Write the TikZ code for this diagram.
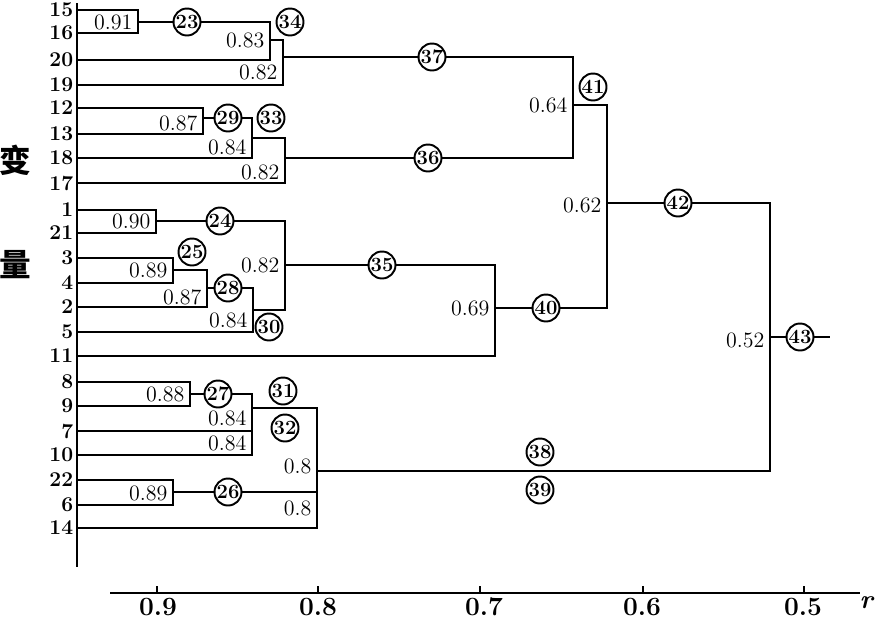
\documentclass[tikz,border=0pt]{standalone}
\usepackage{fontspec}
\newfontfamily\cjkfont{Noto Sans CJK SC}
\begin{document}
\begin{tikzpicture}[x=0.02cm,y=-0.02cm,line width=1.2pt,
        leaf/.style={anchor=east,inner sep=1.6pt,font=\fontsize{12}{12}\selectfont\bfseries},
        val/.style={anchor=east,inner sep=1.5pt,font=\fontsize{12.5}{13}\selectfont},
        num/.style={circle,draw,line width=1.1pt,minimum size=0.54cm,inner sep=0pt,font=\fontsize{11.5}{11}\selectfont\bfseries},
        ticklab/.style={font=\fontsize{15}{15}\selectfont\bfseries}]
        \useasboundingbox (0,0) rectangle (875,619);
        \node[font=\cjkfont\fontsize{18}{18}\selectfont\bfseries] (zi1) at (15,160) {变};
        \node[font=\cjkfont\fontsize{18}{18}\selectfont\bfseries] (zi2) at (15,265) {量};
        \node[leaf] (v15) at (77,10) {15};
        \node[leaf] (v16) at (77,33) {16};
        \node[leaf] (v20) at (77,60) {20};
        \node[leaf] (v19) at (77,85) {19};
        \node[leaf] (v12) at (77,108) {12};
        \node[leaf] (v13) at (77,134) {13};
        \node[leaf] (v18) at (77,158) {18};
        \node[leaf] (v17) at (77,183) {17};
        \node[leaf] (v1) at (77,210) {1};
        \node[leaf] (v21) at (77,233) {21};
        \node[leaf] (v3) at (77,258) {3};
        \node[leaf] (v4) at (77,283) {4};
        \node[leaf] (v2) at (77,307) {2};
        \node[leaf] (v5) at (77,332) {5};
        \node[leaf] (v11) at (77,356) {11};
        \node[leaf] (v8) at (77,382) {8};
        \node[leaf] (v9) at (77,406) {9};
        \node[leaf] (v7) at (77,431) {7};
        \node[leaf] (v10) at (77,455) {10};
        \node[leaf] (v22) at (77,480) {22};
        \node[leaf] (v6) at (77,505) {6};
        \node[leaf] (v14) at (77,528) {14};
        \draw[line width=1.6pt] (77,3) -- (77,567);
        \coordinate (m23) at (138,22);
        \coordinate (m34) at (270,40);
        \coordinate (m37) at (283,57);
        \coordinate (m29) at (203,118);
        \coordinate (m33) at (252,138);
        \coordinate (m36) at (285,158);
        \coordinate (m41) at (573,105);
        \coordinate (m24) at (156,221);
        \coordinate (m25) at (173,270);
        \coordinate (m28) at (207,288);
        \coordinate (m30) at (253,310);
        \coordinate (m35) at (285,265);
        \coordinate (m40) at (495,308);
        \coordinate (m42) at (607,203);
        \coordinate (m27) at (190,394);
        \coordinate (m31) at (252,408);
        \coordinate (m26) at (173,492);
        \coordinate (j26) at (317,492);
        \coordinate (m38) at (317,471);
        \coordinate (m43) at (770,337);
        \coordinate (end) at (830,337);
        \node[num] (c23) at (187,22) {23};
        \node[num] (c34) at (290,22) {34};
        \node[num] (c37) at (432,57) {37};
        \node[num] (c29) at (228,118) {29};
        \node[num] (c33) at (271,118) {33};
        \node[num] (c36) at (428,158) {36};
        \node[num] (c41) at (593,87) {41};
        \node[num] (c24) at (220,221) {24};
        \node[num] (c25) at (192,252) {25};
        \node[num] (c28) at (228,288) {28};
        \node[num] (c30) at (269,327) {30};
        \node[num] (c35) at (382,265) {35};
        \node[num] (c40) at (546,308) {40};
        \node[num] (c42) at (678,203) {42};
        \node[num] (c43) at (800,337) {43};
        \node[num] (c27) at (218,394) {27};
        \node[num] (c31) at (283,391) {31};
        \node[num] (c32) at (285,428) {32};
        \node[num] (c26) at (228,492) {26};
        \node[num] (c38) at (540,452) {38};
        \node[num] (c39) at (540,490) {39};
        \draw (v15.east) -| (m23) |- (v16.east);
        \draw (m23) -- (c23) -| (m34) |- (v20.east);
        \draw (m34) -| (m37) |- (v19.east);
        \draw (m37) -- (c37) -| (m41) |- (c36);
        \draw (v12.east) -| (m29) |- (v13.east);
        \draw (m29) -- (c29) -| (m33) |- (v18.east);
        \draw (m33) -| (m36) |- (v17.east);
        \draw (m36) -- (c36);
        \draw (m41) -| (m42) |- (c40);
        \draw (v1.east) -| (m24) |- (v21.east);
        \draw (m24) -- (c24) -| (m35) |- (m30);
        \draw (v3.east) -| (m25) |- (v4.east);
        \draw (m25) -| (m28) |- (v2.east);
        \draw (m28) -- (c28) -| (m30) |- (v5.east);
        \draw (m35) -- (c35) -| (m40) |- (v11.east);
        \draw (m40) -- (c40);
        \draw (v8.east) -| (m27) |- (v9.east);
        \draw (m27) -- (c27) -| (m31) |- (v7.east);
        \draw (m31) |- (v10.east);
        \draw (m31) -| (m38) |- (v14.east);
        \draw (v22.east) -| (m26) |- (v6.east);
        \draw (m26) -- (c26) -- (j26);
        \draw (m42) -- (c42) -| (m43) |- (m38);
        \draw (m43) -- (c43) -- (end);
        \node[val] (r91) at (136,22) {0.91};
        \node[val] (r83) at (268,40) {0.83};
        \node[val] (r82a) at (281,72) {0.82};
        \node[val] (r87a) at (201,123) {0.87};
        \node[val] (r84a) at (250,147) {0.84};
        \node[val] (r82b) at (283,172) {0.82};
        \node[val] (r64) at (571,105) {0.64};
        \node[val] (r90) at (154,221) {0.90};
        \node[val] (r89a) at (171,270) {0.89};
        \node[val] (r87b) at (205,297) {0.87};
        \node[val] (r84b) at (251,320) {0.84};
        \node[val] (r82c) at (283,265) {0.82};
        \node[val] (r69) at (493,308) {0.69};
        \node[val] (r62) at (605,205) {0.62};
        \node[val] (r52) at (768,340) {0.52};
        \node[val] (r88) at (188,394) {0.88};
        \node[val] (r84c) at (250,418) {0.84};
        \node[val] (r84d) at (250,443) {0.84};
        \node[val] (r89b) at (171,493) {0.89};
        \node[val] (r80a) at (315,466) {0.8};
        \node[val] (r80b) at (315,508) {0.8};
        \draw[line width=1.4pt] (110,593) -- (860,593);
        \draw (157,593) -- (157,586);
        \draw (318,593) -- (318,586);
        \draw (480,593) -- (480,586);
        \draw (643,593) -- (643,586);
        \draw (804,593) -- (804,586);
        \node[ticklab] (x9) at (158,607) {0.9};
        \node[ticklab] (x8) at (318,607) {0.8};
        \node[ticklab] (x7) at (484,607) {0.7};
        \node[ticklab] (x6) at (642,607) {0.6};
        \node[ticklab] (x5) at (803,607) {0.5};
        \node[ticklab] (xr) at (867,603) {\textit{r}};
    \end{tikzpicture}
\end{document}
